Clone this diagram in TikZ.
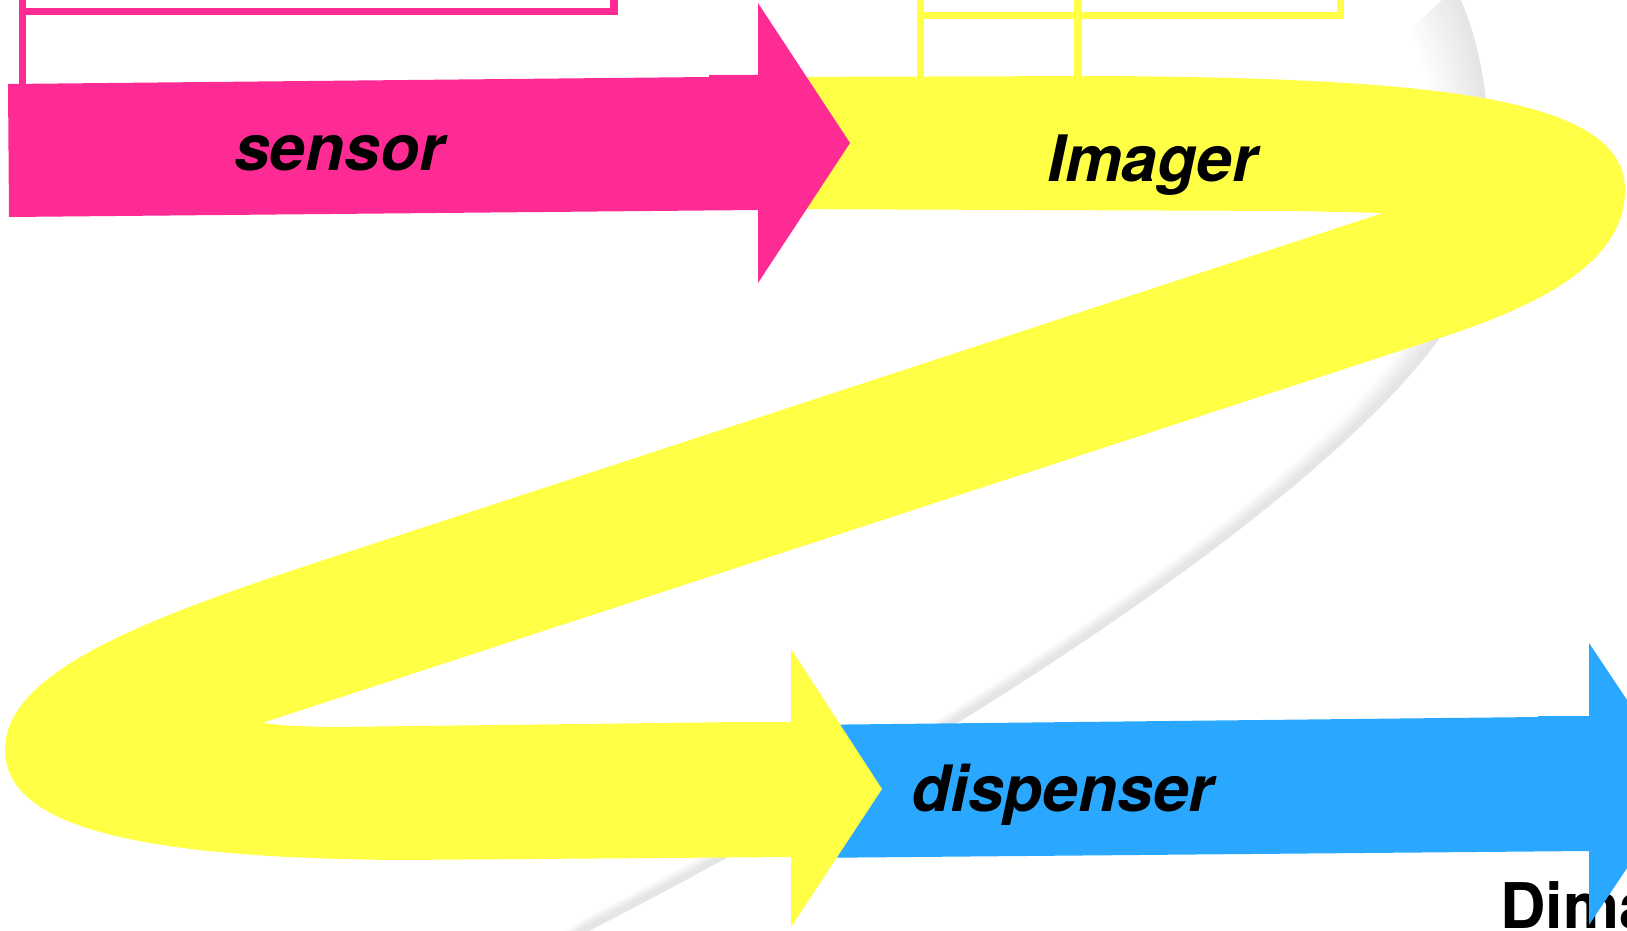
\documentclass[tikz,border=0pt]{standalone}
\usepackage{fontspec}
\setmainfont{TeX Gyre Heros}
\definecolor{pinkc}{RGB}{255,43,148}
\definecolor{yelc}{RGB}{255,255,70}
\definecolor{bluec}{RGB}{42,168,255}
\begin{document}
\begin{tikzpicture}[x=1pt,y=-1pt,
  lbl/.style={font=\fontsize{64}{72}\selectfont\bfseries\itshape, inner sep=0pt, anchor=base west, text=black},
  framel/.style={line width=7.5pt},
  arcpath/.style={line width=5pt}]
\useasboundingbox (0,0) rectangle (1627,931);
\clip (0,0) rectangle (1627,931);
\fill[white] (0,0) rectangle (1627,931);
% faint gray swoosh
\foreach \k in {16,15,...,0}{
  \pgfmathsetmacro{\c}{10*(1-\k/17)}
  \pgfmathsetmacro{\s}{1-0.0035*\k}
  \begin{scope}[shift={(700,700)}, scale=\s, shift={(-700,-700)}]
    \draw[arcpath, black!\c] (1453,-10) .. controls (1500,80) and (1500,250) .. (1433,343)
      .. controls (1300,520) and (900,770) .. (583,931) -- (540,960);
  \end{scope}
}
% pink box lines
\draw[pinkc, framel] (614,-10) -- (614,11.5) -- (22.5,11.5);
\draw[pinkc, framel] (22.5,-10) -- (22.5,86);
% yellow box lines
\draw[yelc, framel] (1340.5,-10) -- (1340.5,15.5) -- (920.5,15.5);
\draw[yelc, framel] (920.5,-10) -- (920.5,80);
\draw[yelc, framel] (1078,-10) -- (1078,80);
% partly hidden word (cut by the edge, as in the original)
\node[font=\fontsize{63}{70}\selectfont\bfseries, inner sep=0pt, anchor=base west] (dima) at (1500,928) {Dima};
% blue arrow
\fill[bluec] (800,725) -- (1538,717) -- (1538,716) -- (1589,716) -- (1589,643) -- (1683,784)
  -- (1589,925) -- (1589,851) -- (800,858) -- cycle;
% yellow Z ribbon
\fill[yelc] (760,77) -- (1100,76) .. controls (1450,78) and (1625,100) .. (1625,190)
  .. controls (1625,260) and (1545,305) .. (1433,340) -- (262,723)
  .. controls (290,726) .. (333,727) -- (742,722) -- (791,722) -- (791,649) -- (882,789)
  -- (791,927) -- (791,857) -- (400,860) .. controls (150,858) and (5,830) .. (5,750)
  .. controls (5,670) and (150,617) .. (333,557) -- (1383,213) -- (1296,211) -- (760,209) -- cycle;
% pink arrow
\fill[pinkc] (8,84) -- (709,77) -- (709,75) -- (758,75) -- (758,3) -- (850,143) -- (758,283)
  -- (758,210) -- (9,217) -- cycle;
% labels
\node[lbl] (sensor) at (234,170) {sensor};
\node[lbl] (imager) at (1047,181) {Imager};
\node[lbl] (dispenser) at (911,811) {dispenser};
\end{tikzpicture}
\end{document}
